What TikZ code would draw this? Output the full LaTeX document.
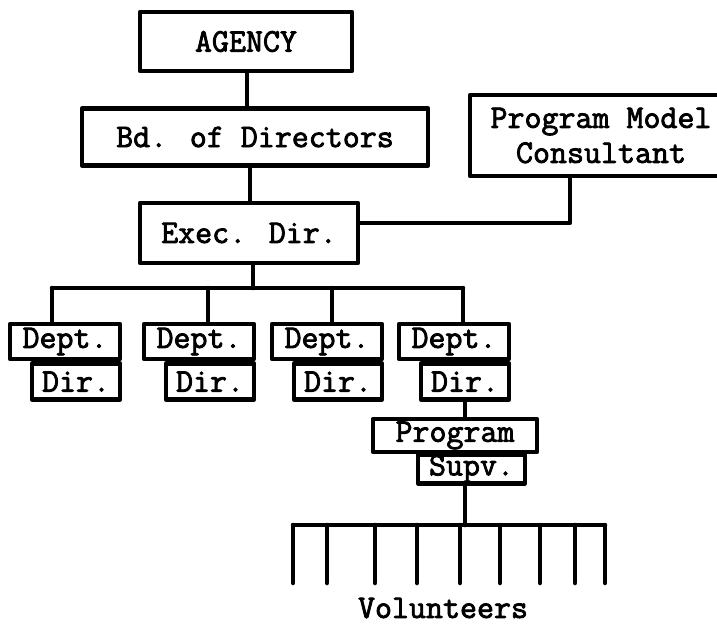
\documentclass[tikz,border=0pt]{standalone}
\usepackage{fontspec}
\newfontfamily\chartfont[FakeBold=2.5]{Latin Modern Mono}
\begin{document}
\begin{tikzpicture}[x=1pt, y=-1pt, font=\chartfont\fontsize{33}{35}\selectfont, line join=round, line cap=round, line width=4.5pt]
		\tikzset{box/.style={draw, inner sep=0pt, align=center},
		dept/.style={box, minimum width=110, minimum height=35},
		dir/.style={box, minimum width=88, minimum height=36, anchor=north east}}
		\useasboundingbox (0,0) rectangle (717,626);
		\node[box, minimum width=212, minimum height=59] (agency) at (246,41.5) {AGENCY};
		\node[box, minimum width=346, minimum height=57] (bd) at (255,137) {Bd. of Directors};
		\node[box, minimum width=262, minimum height=81] (pm) at (601,135.5) {Program Model\\Consultant};
		\node[box, minimum width=218, minimum height=60] (exec) at (249,233) {Exec. Dir.};
		\draw (agency.south -| 247,0) -- (bd.north -| 247,0)
		(bd.south -| 250,0) -- (exec.north -| 250,0);
		\coordinate (pmjoin) at (570,223);
		\draw (pm.south -| pmjoin) -- (pmjoin) -- (exec.east |- pmjoin);
		% departments
		\coordinate (bus) at (253,288);
		\draw (exec.south -| bus) -- (bus) (52,288) -- (463,288);
		\foreach \n/\x/\d in {1/65/52, 2/199/208, 3/327/332, 4/454/463}{
			\node[dept] (dept\n) at (\x,341.5) {Dept.};
			\node[dir] (dir\n) at (dept\n.south east) {Dir.};
			\draw (\d,288) -- (dept\n.north -| \d,0);}
		\node[box, minimum width=164, minimum height=33] (prog) at (455,435.5) {Program};
		\node[box, minimum width=107, minimum height=29, anchor=north] (supv) at (471.5,452) {Supv.};
		\draw (dir4.south) -- (prog.north -| dir4.south);
		% volunteers
		\coordinate (vbus) at (465,525);
		\draw (supv.south -| vbus) -- (vbus) (293,525) -- (605,525);
		\foreach \x in {293,327,375,417,460,500,540,575,605}
			\draw (\x,525) -- (\x,583);
		\node (vol) at (443,608) {Volunteers};
	\end{tikzpicture}
\end{document}
